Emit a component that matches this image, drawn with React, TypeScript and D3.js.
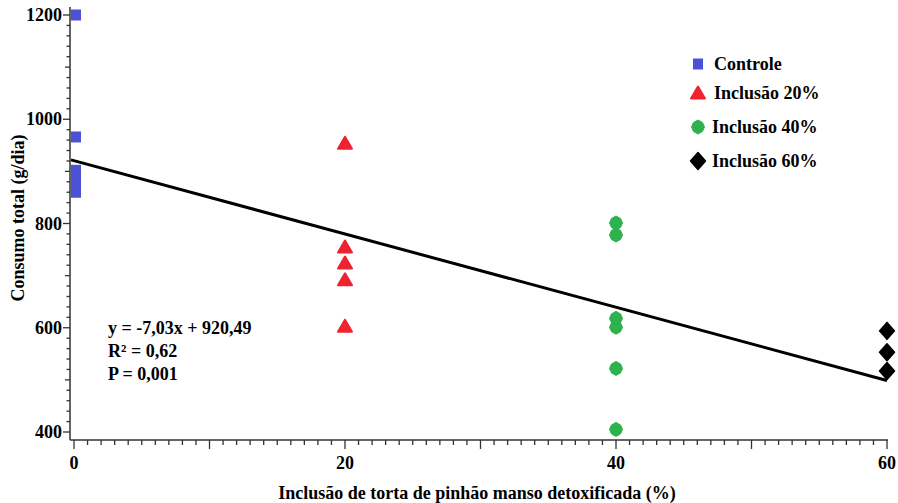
import React from "react";
import * as d3 from "d3";

const controle = [1200, 966, 902, 888, 874, 860];
const inclusao20 = [954, 755, 724, 692, 603];
const inclusao40 = [801, 778, 618, 601, 522, 405];
const inclusao60 = [594, 553, 517];
const xLevels = [0, 20, 40, 60];
const xTickLabels = [0, 20, 40, 60];
const yTickLabels = [400, 600, 800, 1000, 1200];
const legendLabels = ["Controle", "Inclusão 20%", "Inclusão 40%", "Inclusão 60%"];
const slope = -7.03;
const intercept = 920.49;
const annotation = ["y = -7,03x + 920,49", "R² = 0,62", "P = 0,001"];

const W = 898;
const H = 503;
const FONT = "'Liberation Serif', 'Times New Roman', serif";

const COLORS = ["#4b52d6", "#ee2330", "#2db24e", "#000000"];

function square(cx: number, cy: number) {
  return `M${cx - 5},${cy - 5.5}h10v11h-10z`;
}
function triangle(cx: number, cy: number) {
  return `M${cx},${cy - 6.5}L${cx + 7},${cy + 5.5}L${cx - 7},${cy + 5.5}Z`;
}
function diamond(cx: number, cy: number) {
  return `M${cx},${cy - 8.5}L${cx + 7.5},${cy}L${cx},${cy + 8.5}L${cx - 7.5},${cy}Z`;
}
function octo(cx: number, cy: number) {
  return `M${cx},${cy - 7}L${cx + 4.5},${cy - 4.5}L${cx + 6.5},${cy}L${cx + 4.5},${cy + 4.5}L${cx},${cy + 7}L${cx - 4.5},${cy + 4.5}L${cx - 6.5},${cy}L${cx - 4.5},${cy - 4.5}Z`;
}

export default function App() {
  const x = d3.scaleLinear().domain([0, 60]).range([74, 887]);
  const y = d3.scaleLinear().domain([400, 1200]).range([432, 15]);
  const axisX0 = 70;
  const axisY = 440;

  const xMinor = d3.range(0, 61, 1);
  const yMinor = d3.range(400, 1201, 20);

  const groups = [controle, inclusao20, inclusao40, inclusao60];

  const marker = (g: number, cx: number, cy: number, key: string) => {
    const c = COLORS[g];
    if (g === 0) return <path key={key} d={square(cx, cy)} fill={c} />;
    if (g === 1)
      return (
        <path key={key} d={triangle(cx, cy)} fill={c} stroke={c} strokeWidth={2} strokeLinejoin="round" />
      );
    if (g === 2)
      return <path key={key} d={octo(cx, cy)} fill={c} stroke={c} strokeWidth={1} strokeLinejoin="round" />;
    return <path key={key} d={diamond(cx, cy)} fill={c} stroke={c} strokeWidth={1.5} strokeLinejoin="round" />;
  };

  const legendY = [64, 93, 127, 161];
  const legendTextX = [714, 714, 712, 712];

  return (
    <svg
      width={W}
      height={H}
      style={{ position: "absolute", left: 0, top: 0, background: "#fff" }}
      fontFamily={FONT}
      fontWeight="bold"
    >
      <rect width={W} height={H} fill="#fff" />
      {/* axes */}
      <line x1={axisX0} x2={axisX0} y1={7} y2={axisY} stroke="#333" strokeWidth={1.5} />
      <line x1={axisX0} x2={888} y1={axisY} y2={axisY} stroke="#333" strokeWidth={1.5} />
      {xMinor.map((v) => (
        <line
          key={"xt" + v}
          x1={x(v)}
          x2={x(v)}
          y1={axisY}
          y2={axisY + (v % 10 === 0 ? 9 : 5)}
          stroke="#333"
          strokeWidth={1.3}
        />
      ))}
      {yMinor.map((v) => (
        <line
          key={"yt" + v}
          x1={axisX0}
          x2={axisX0 - (v % 200 === 0 ? 7 : v % 100 === 0 ? 5 : 3.5)}
          y1={y(v)}
          y2={y(v)}
          stroke="#333"
          strokeWidth={1.3}
        />
      ))}
      {xTickLabels.map((v) => (
        <text key={"xl" + v} x={x(v)} y={469} textAnchor="middle" fontSize={18}>
          {v}
        </text>
      ))}
      {yTickLabels.map((v) => (
        <text key={"yl" + v} x={62} y={y(v) + 6} textAnchor="end" fontSize={18}>
          {v}
        </text>
      ))}
      <text x={477} y={499} textAnchor="middle" fontSize={18}>
        Inclusão de torta de pinhão manso detoxificada (%)
      </text>
      <text
        transform={`translate(24,218) rotate(-90)`}
        textAnchor="middle"
        fontSize={18}
      >
        Consumo total (g/dia)
      </text>
      {/* regression line */}
      <line
        x1={x(0) - 3}
        y1={y(intercept - slope * (3 / 13.55))}
        x2={x(60)}
        y2={y(intercept + slope * 60)}
        stroke="#000"
        strokeWidth={3}
      />
      {/* points */}
      {groups.map((vals, g) =>
        vals.map((v, i) => marker(g, x(xLevels[g]) + (g === 0 ? 2 : 0), y(v), `p${g}-${i}`))
      )}
      {/* annotation */}
      {annotation.map((t, i) => (
        <text key={"an" + i} x={108} y={334 + i * 23} fontSize={18}>
          {t}
        </text>
      ))}
      {/* legend */}
      {legendLabels.map((t, i) => (
        <g key={"lg" + i}>
          {marker(i, 698, legendY[i], "lm" + i)}
          <text x={legendTextX[i]} y={legendY[i] + 6} fontSize={18}>
            {t}
          </text>
        </g>
      ))}
    </svg>
  );
}
